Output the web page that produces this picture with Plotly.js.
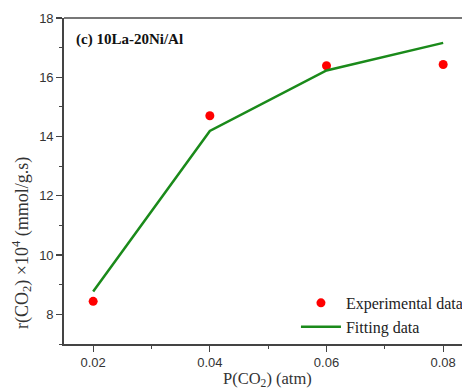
<!DOCTYPE html>
<html><head><meta charset="utf-8">
<script src="https://cdn.plot.ly/plotly-3.0.1.min.js"></script>
<style>html,body{margin:0;padding:0;background:#fff;overflow:hidden;width:462px;height:389px}#c{width:500px;height:389px}</style>
</head><body><div id="c"></div>
<script>
var pressure = [0.02, 0.04, 0.06, 0.08];
var experimental = [8.44, 14.70, 16.39, 16.43];
var fitting = [8.77, 14.19, 16.23, 17.16];
var xTicks = [0.02, 0.04, 0.06, 0.08];
var xTickLabels = ['0.02', '0.04', '0.06', '0.08'];
var yTicks = [8, 10, 12, 14, 16, 18];

var traces = [
  {x: pressure, y: experimental, mode: 'markers', name: 'Experimental data',
   marker: {color: '#ff0000', size: 9}},
  {x: pressure, y: fitting, mode: 'lines', name: 'Fitting data',
   line: {color: '#1a8a1a', width: 2.5}}
];
var axFont = {family: 'Liberation Sans, Arial, sans-serif', size: 13, color: '#333'};
var serif = 'Liberation Serif, Times New Roman, serif';
var layout = {
  width: 500, height: 389,
  margin: {l: 64, r: 0, t: 18, b: 45},
  paper_bgcolor: '#fff', plot_bgcolor: '#fff',
  showlegend: true,
  legend: {x: 0.532, y: 0.178, xanchor: 'left', yanchor: 'top', bgcolor: 'rgba(0,0,0,0)',
    itemwidth: 40,
    font: {family: serif, size: 16, color: '#222'},
    tracegroupgap: 0},
  xaxis: {range: [0.015, 0.08974], tickvals: xTicks, ticktext: xTickLabels,
    ticks: 'outside', ticklen: 6, tickwidth: 1.2, tickcolor: '#444',
    minor: {dtick: 0.01, tick0: 0.01, ticks: 'outside', ticklen: 3, tickwidth: 1, tickcolor: '#444'},
    showline: true, linecolor: '#444', linewidth: 1.8, mirror: false,
    showgrid: false, zeroline: false, tickfont: axFont},
  yaxis: {range: [7, 18], tickvals: yTicks,
    ticks: 'outside', ticklen: 6, tickwidth: 1.2, tickcolor: '#444',
    minor: {dtick: 1, tick0: 7, ticks: 'outside', ticklen: 3, tickwidth: 1, tickcolor: '#444'},
    showline: true, linecolor: '#444', linewidth: 1.8,
    showgrid: false, zeroline: false, tickfont: axFont},
  shapes: [{type: 'line', xref: 'paper', yref: 'paper', x0: 0, x1: 1, y0: 1, y1: 1,
    line: {color: '#777', width: 1.8}}],
  annotations: [
    {text: '<b>(c) 10La-20Ni/Al</b>', xref: 'paper', yref: 'paper',
     x: 0.022, y: 0.935, xanchor: 'left', yanchor: 'middle', showarrow: false,
     font: {family: serif, size: 15, color: '#111'}},
    {text: 'P(CO<sub>2</sub>) (atm)', xref: 'paper', yref: 'paper',
     x: 0.467, y: -0.108, xanchor: 'center', yanchor: 'middle', showarrow: false,
     font: {family: serif, size: 16.5, color: '#333'}},
    {text: 'r(CO<sub>2</sub>) ×10<sup>4</sup> (mmol/g.s)', xref: 'paper', yref: 'paper',
     x: -0.0963, y: 0.31, xanchor: 'center', yanchor: 'middle', showarrow: false,
     textangle: -90, font: {family: serif, size: 18, color: '#333'}}
  ]
};
Plotly.newPlot('c', traces, layout, {staticPlot: true, displayModeBar: false});
</script></body></html>
